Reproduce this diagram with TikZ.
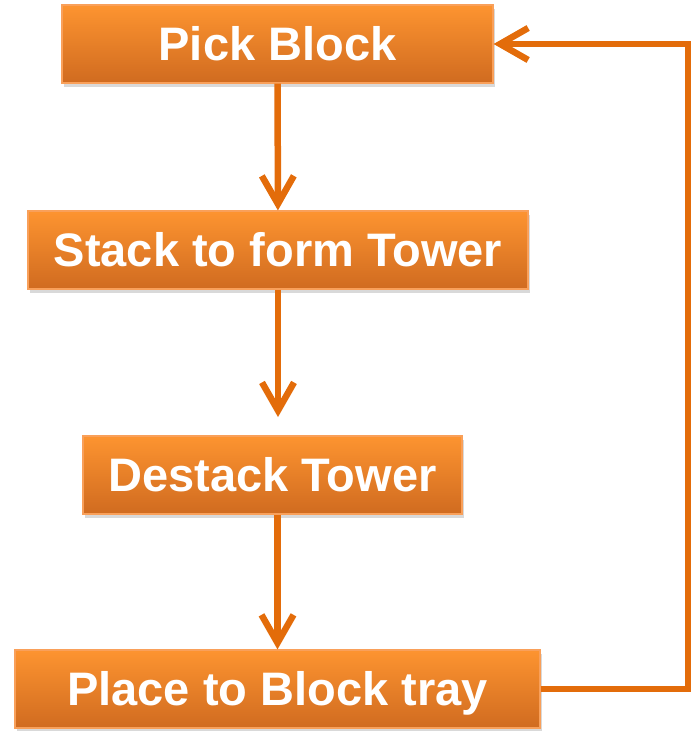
\documentclass[tikz,border=0pt]{standalone}
\usepackage{fontspec}
\setmainfont{Liberation Sans}
\usetikzlibrary{arrows.meta,shadows}
\definecolor{boxtop}{HTML}{FD9430}
\definecolor{boxbottom}{HTML}{D06B20}
\definecolor{boxline}{HTML}{F9A05A}
\definecolor{flowline}{HTML}{E36C0A}
\tikzset{stepbox/.style={rectangle, draw=boxline, line width=1.2pt,
    top color=boxtop, bottom color=boxbottom, minimum height=78pt,
    inner sep=0pt, text height=33.7pt, text depth=0pt, text=white,
    font=\fontsize{47}{56}\selectfont\bfseries,
    drop shadow={opacity=0.3, shadow xshift=2pt, shadow yshift=-4pt}},
  flow/.style={draw=flowline, line width=6.5pt,
    -{Straight Barb[length=28pt,width=32pt]}}}

\begin{document}
\begin{tikzpicture}[x=1pt, y=-1pt]
          \useasboundingbox (0,0) rectangle (692,731);

          \node at (277.5, 44) [stepbox, minimum width=431pt] (pick) {Pick Block};
          \node at (278, 250) [stepbox, minimum width=500pt] (stack) {Stack to form Tower};
          \node at (272.5, 475) [stepbox, minimum width=379pt] (destack) {Destack Tower};
          \node at (277.5, 689) [stepbox, minimum width=525pt] (place) {Place to Block tray};

          \coordinate (gap) at (278, 417);

          \draw[flow] (pick) -- (stack);
          \draw[flow] (stack.south) -- (gap);
          \draw[flow] (destack.south -| place.north) -- (place.north);
          \draw[flow] (place.east) -- ++(147.5, 0) |- (pick.east);
        \end{tikzpicture}
\end{document}
